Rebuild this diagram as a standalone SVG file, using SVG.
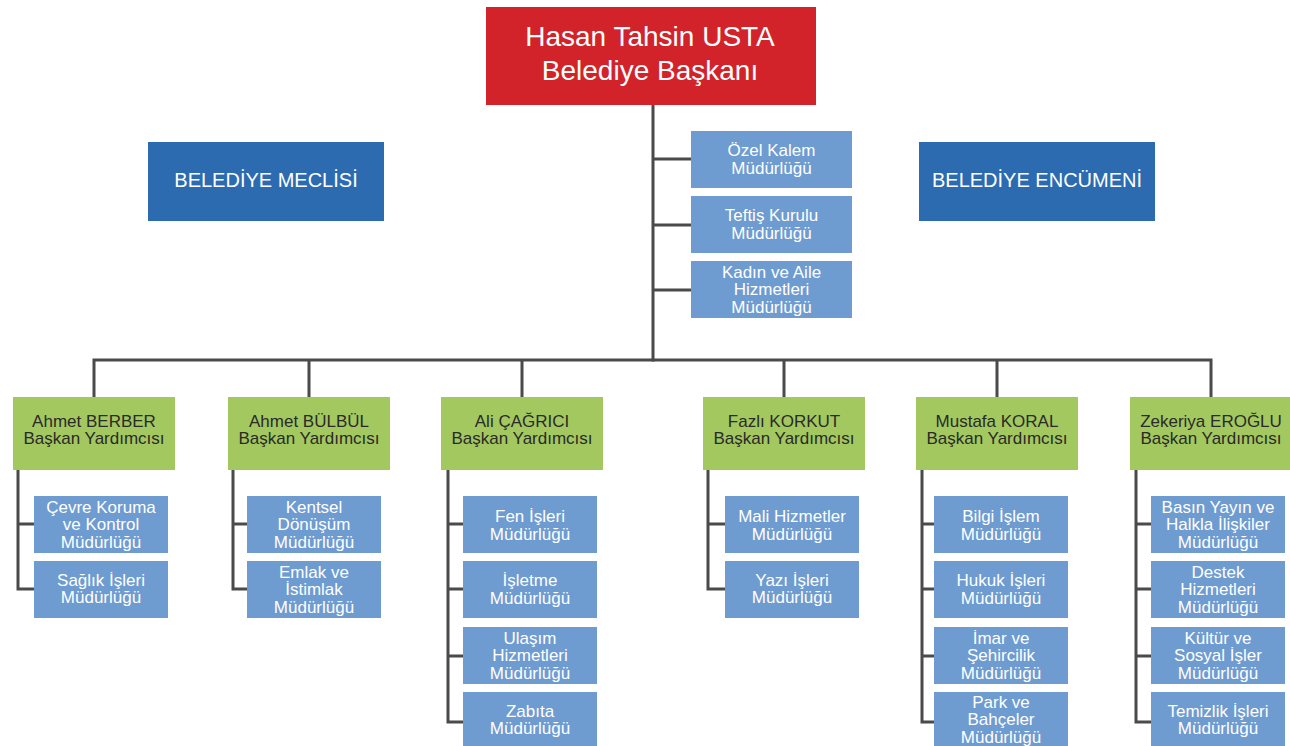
<svg xmlns="http://www.w3.org/2000/svg" width="1290" height="746" viewBox="0 0 1290 746">
<style>
.ln{stroke:#4a4a4a;stroke-width:3;fill:none;stroke-linecap:square}
.red{fill:#d2232a}
.dblue{fill:#2c6bb0}
.green{fill:#a3c85f}
.lblue{fill:#6e9bd0}
text{font-family:"Liberation Sans",Arial,sans-serif;text-anchor:middle}
.tw{fill:#ffffff;font-size:17px}
.tg{fill:#2a2a2a;font-size:17px}
.tt{fill:#ffffff;font-size:28px}
.tb{fill:#ffffff;font-size:20px}
</style>
<rect width="1290" height="746" fill="#ffffff"/>
<g id="connectors">
<path class="ln" d="M653,105 V360 M653,159 H691 M653,225 H691 M653,290 H691"/>
<path class="ln" d="M94,360 H1211 M94,360 V397 M309,360 V397 M522,360 V397 M784,360 V397 M997,360 V397 M1211,360 V397"/>
<path class="ln" d="M18,470 V589 M18,524 H34 M18,589 H34"/>
<path class="ln" d="M233,470 V589 M233,524 H247 M233,589 H247"/>
<path class="ln" d="M448,470 V722 M448,524 H463 M448,589 H463 M448,656 H463 M448,722 H463"/>
<path class="ln" d="M708,470 V589 M708,524 H725 M708,589 H725"/>
<path class="ln" d="M922,470 V722 M922,524 H934 M922,589 H934 M922,656 H934 M922,722 H934"/>
<path class="ln" d="M1136,470 V722 M1136,524 H1151 M1136,589 H1151 M1136,656 H1151 M1136,722 H1151"/>
</g>
<g id="baskan"><rect class="red" x="486" y="7" width="330" height="98"/><text class="tt" x="650" y="46">Hasan Tahsin USTA</text><text class="tt" x="650" y="80">Belediye Başkanı</text></g>
<g id="meclis"><rect class="dblue" x="148" y="142" width="236" height="79"/><text class="tb" x="266" y="187">BELEDİYE MECLİSİ</text></g>
<g id="encumen"><rect class="dblue" x="919" y="142" width="236" height="79"/><text class="tb" x="1037" y="187">BELEDİYE ENCÜMENİ</text></g>
<g id="ozel-kalem"><rect class="lblue" x="691" y="131" width="161" height="57"/><text class="tw" x="771.5" y="156">Özel Kalem</text><text class="tw" x="771.5" y="173.5">Müdürlüğü</text></g>
<g id="teftis"><rect class="lblue" x="691" y="196" width="161" height="57"/><text class="tw" x="771.5" y="221">Teftiş Kurulu</text><text class="tw" x="771.5" y="238.5">Müdürlüğü</text></g>
<g id="kadin-aile"><rect class="lblue" x="691" y="261" width="161" height="57"/><text class="tw" x="771.5" y="277.5">Kadın ve Aile</text><text class="tw" x="771.5" y="295">Hizmetleri</text><text class="tw" x="771.5" y="312.5">Müdürlüğü</text></g>

<g id="berber"><rect class="green" x="13" y="397" width="162" height="73"/><text class="tg" x="94" y="427">Ahmet BERBER</text><text class="tg" x="94" y="444">Başkan Yardımcısı</text></g>
<g id="bulbul"><rect class="green" x="228" y="397" width="162" height="73"/><text class="tg" x="309" y="427">Ahmet BÜLBÜL</text><text class="tg" x="309" y="444">Başkan Yardımcısı</text></g>
<g id="cagrici"><rect class="green" x="441" y="397" width="162" height="73"/><text class="tg" x="522" y="427">Ali ÇAĞRICI</text><text class="tg" x="522" y="444">Başkan Yardımcısı</text></g>
<g id="korkut"><rect class="green" x="703" y="397" width="162" height="73"/><text class="tg" x="784" y="427">Fazlı KORKUT</text><text class="tg" x="784" y="444">Başkan Yardımcısı</text></g>
<g id="koral"><rect class="green" x="916" y="397" width="162" height="73"/><text class="tg" x="997" y="427">Mustafa KORAL</text><text class="tg" x="997" y="444">Başkan Yardımcısı</text></g>
<g id="eroglu"><rect class="green" x="1130" y="397" width="162" height="73"/><text class="tg" x="1211" y="427">Zekeriya EROĞLU</text><text class="tg" x="1211" y="444">Başkan Yardımcısı</text></g>

<g id="cevre"><rect class="lblue" x="34" y="496" width="134" height="57"/><text class="tw" x="101" y="512.5">Çevre Koruma</text><text class="tw" x="101" y="530">ve Kontrol</text><text class="tw" x="101" y="547.5">Müdürlüğü</text></g>
<g id="saglik"><rect class="lblue" x="34" y="561" width="134" height="57"/><text class="tw" x="101" y="585.5">Sağlık İşleri</text><text class="tw" x="101" y="603">Müdürlüğü</text></g>

<g id="kentsel"><rect class="lblue" x="247" y="496" width="134" height="57"/><text class="tw" x="314" y="512.5">Kentsel</text><text class="tw" x="314" y="530">Dönüşüm</text><text class="tw" x="314" y="547.5">Müdürlüğü</text></g>
<g id="emlak"><rect class="lblue" x="247" y="561" width="134" height="57"/><text class="tw" x="314" y="577.5">Emlak ve</text><text class="tw" x="314" y="595">İstimlak</text><text class="tw" x="314" y="612.5">Müdürlüğü</text></g>

<g id="fen"><rect class="lblue" x="463" y="496" width="134" height="57"/><text class="tw" x="530" y="522">Fen İşleri</text><text class="tw" x="530" y="539.5">Müdürlüğü</text></g>
<g id="isletme"><rect class="lblue" x="463" y="561" width="134" height="57"/><text class="tw" x="530" y="586">İşletme</text><text class="tw" x="530" y="603.5">Müdürlüğü</text></g>
<g id="ulasim"><rect class="lblue" x="463" y="627" width="134" height="57"/><text class="tw" x="530" y="643.5">Ulaşım</text><text class="tw" x="530" y="661">Hizmetleri</text><text class="tw" x="530" y="678.5">Müdürlüğü</text></g>
<g id="zabita"><rect class="lblue" x="463" y="692" width="134" height="57"/><text class="tw" x="530" y="716.5">Zabıta</text><text class="tw" x="530" y="734">Müdürlüğü</text></g>

<g id="mali"><rect class="lblue" x="725" y="496" width="134" height="57"/><text class="tw" x="792" y="522">Mali Hizmetler</text><text class="tw" x="792" y="539.5">Müdürlüğü</text></g>
<g id="yazi"><rect class="lblue" x="725" y="561" width="134" height="57"/><text class="tw" x="792" y="585.5">Yazı İşleri</text><text class="tw" x="792" y="603">Müdürlüğü</text></g>

<g id="bilgi"><rect class="lblue" x="934" y="496" width="134" height="57"/><text class="tw" x="1001" y="522">Bilgi İşlem</text><text class="tw" x="1001" y="539.5">Müdürlüğü</text></g>
<g id="hukuk"><rect class="lblue" x="934" y="561" width="134" height="57"/><text class="tw" x="1001" y="586">Hukuk İşleri</text><text class="tw" x="1001" y="603.5">Müdürlüğü</text></g>
<g id="imar"><rect class="lblue" x="934" y="627" width="134" height="57"/><text class="tw" x="1001" y="643.5">İmar ve</text><text class="tw" x="1001" y="661">Şehircilik</text><text class="tw" x="1001" y="678.5">Müdürlüğü</text></g>
<g id="park"><rect class="lblue" x="934" y="692" width="134" height="57"/><text class="tw" x="1001" y="707.5">Park ve</text><text class="tw" x="1001" y="725">Bahçeler</text><text class="tw" x="1001" y="742.5">Müdürlüğü</text></g>

<g id="basin"><rect class="lblue" x="1151" y="496" width="134" height="57"/><text class="tw" x="1218" y="512.5">Basın Yayın ve</text><text class="tw" x="1218" y="530">Halkla İlişkiler</text><text class="tw" x="1218" y="547.5">Müdürlüğü</text></g>
<g id="destek"><rect class="lblue" x="1151" y="561" width="134" height="57"/><text class="tw" x="1218" y="577.5">Destek</text><text class="tw" x="1218" y="595">Hizmetleri</text><text class="tw" x="1218" y="612.5">Müdürlüğü</text></g>
<g id="kultur"><rect class="lblue" x="1151" y="627" width="134" height="57"/><text class="tw" x="1218" y="643.5">Kültür ve</text><text class="tw" x="1218" y="661">Sosyal İşler</text><text class="tw" x="1218" y="678.5">Müdürlüğü</text></g>
<g id="temizlik"><rect class="lblue" x="1151" y="692" width="134" height="57"/><text class="tw" x="1218" y="716.5">Temizlik İşleri</text><text class="tw" x="1218" y="734">Müdürlüğü</text></g>
</svg>
